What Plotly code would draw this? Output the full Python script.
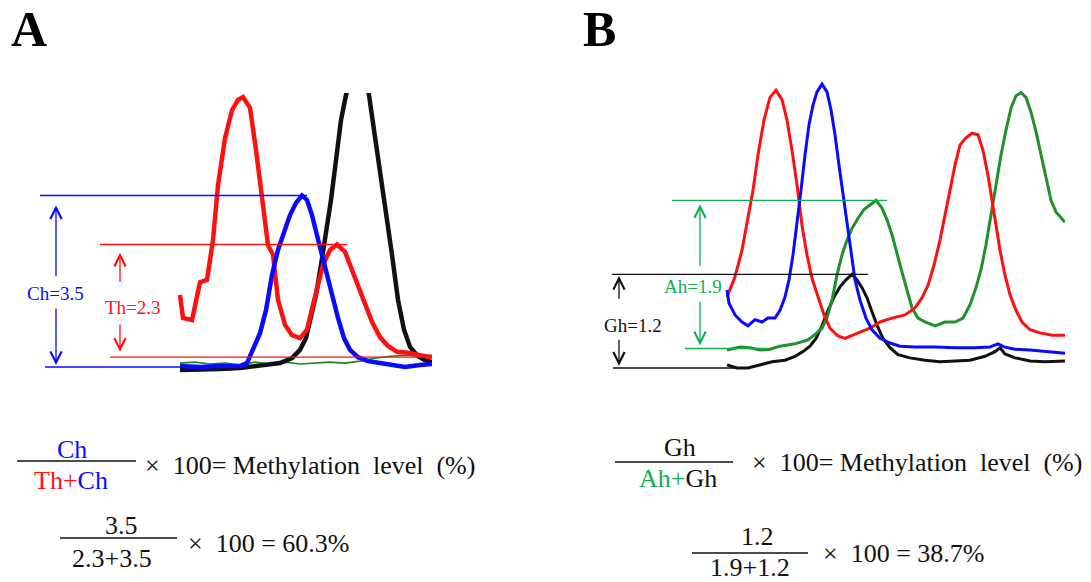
import plotly.graph_objects as go

# ---------------- Panel A: T/C peak electropherogram (signal in peak-height units) ----------------
a_red_scan = [0, 3, 12, 20, 27, 33, 38, 45, 52, 58, 63, 70, 76, 82, 88, 93, 98, 105, 112, 120,
              127, 133, 138, 143, 150, 157, 165, 172, 178, 185, 192, 200, 208, 217, 228, 240, 252]
a_red = [1.47, 1.00, 0.96, 1.73, 1.78, 2.59, 3.71, 4.67, 5.24, 5.45, 5.51, 5.29, 4.43, 3.41, 2.49,
         2.29, 1.37, 0.86, 0.65, 0.59, 0.76, 1.27, 1.67, 2.08, 2.39, 2.50, 2.35, 1.98, 1.67, 1.27,
         0.92, 0.61, 0.43, 0.31, 0.29, 0.24, 0.20]

a_blue_scan = [0, 20, 40, 60, 67, 73, 80, 86, 92, 98, 104, 110, 116, 122, 127, 132, 137, 142, 147,
               152, 158, 164, 170, 178, 188, 200, 215, 225, 240, 252]
a_blue = [0.02, 0.00, 0.02, 0.02, 0.08, 0.35, 0.69, 1.16, 1.88, 2.39, 2.76, 3.10, 3.35, 3.50, 3.41,
          3.10, 2.69, 2.29, 1.88, 1.41, 1.00, 0.59, 0.35, 0.20, 0.12, 0.08, 0.04, 0.00, 0.04, 0.06]

a_black_scan = [0, 20, 40, 60, 80, 100, 112, 120, 126, 131, 136, 141, 146, 151, 156, 161, 166, 172,
                178, 184, 189, 194, 200, 206, 212, 218, 224, 230, 238, 245, 252]
a_black = [-0.06, -0.06, -0.04, -0.02, 0.02, 0.08, 0.18, 0.35, 0.59, 1.00, 1.47, 2.08, 2.69, 3.41,
           4.22, 5.04, 5.55, 6.06, 6.37, 6.06, 5.55, 4.84, 4.02, 3.20, 2.29, 1.37, 0.76, 0.41, 0.22,
           0.14, 0.10]

a_green_scan = [0, 15, 30, 45, 60, 75, 90, 105, 120, 135, 150, 165, 180, 195, 210, 225, 240, 252]
a_green = [0.08, 0.10, 0.06, 0.08, 0.04, 0.10, 0.06, 0.10, 0.06, 0.08, 0.10, 0.08, 0.12, 0.18, 0.22,
           0.24, 0.22, 0.24]

# Peak heights for the C/T site
ch_base, ch_height = 0.0, 3.5
th_base, th_height = 0.2, 2.3
a_result = "60.3%"

# ---------------- Panel B: A/G peak electropherogram ----------------
b_red_scan = [0, 8, 15, 21, 26, 31, 37, 43, 49, 55, 60, 65, 70, 75, 80, 85, 91, 97, 103, 111, 118,
              125, 133, 143, 153, 165, 178, 188, 195, 201, 207, 213, 218, 223, 228, 233, 239, 245,
              251, 256, 261, 265, 269, 273, 278, 283, 289, 295, 303, 313, 325, 338]
b_red = [0.91, 1.17, 1.51, 1.96, 2.28, 2.73, 3.18, 3.47, 3.56, 3.44, 3.18, 2.79, 2.35, 1.83, 1.45,
         1.15, 0.91, 0.68, 0.51, 0.41, 0.38, 0.42, 0.46, 0.51, 0.59, 0.64, 0.68, 0.77, 0.90, 1.06,
         1.32, 1.64, 1.96, 2.28, 2.60, 2.86, 2.95, 3.01, 2.99, 2.79, 2.47, 2.15, 1.83, 1.51, 1.19,
         0.94, 0.74, 0.59, 0.49, 0.45, 0.42, 0.42]

b_blue_scan = [0, 2, 8, 15, 21, 28, 35, 41, 48, 53, 58, 62, 66, 70, 74, 78, 82, 86, 90, 95, 100,
               104, 108, 112, 116, 120, 124, 128, 133, 139, 145, 153, 163, 173, 188, 208, 228, 248,
               263, 271, 277, 288, 303, 318, 338]
b_blue = [1.00, 0.83, 0.68, 0.59, 0.54, 0.62, 0.59, 0.64, 0.64, 0.74, 0.91, 1.13, 1.45, 1.83, 2.28,
          2.73, 3.12, 3.37, 3.54, 3.64, 3.54, 3.31, 2.99, 2.60, 2.22, 1.83, 1.45, 1.13, 0.87, 0.64,
          0.49, 0.38, 0.32, 0.28, 0.27, 0.27, 0.26, 0.26, 0.27, 0.31, 0.27, 0.24, 0.23, 0.21, 0.19]

b_green_scan = [0, 13, 23, 33, 43, 53, 68, 81, 89, 95, 100, 105, 110, 115, 120, 125, 131, 137, 143,
                149, 155, 160, 165, 170, 175, 180, 185, 191, 198, 208, 218, 228, 236, 243, 249, 254,
                259, 264, 269, 274, 279, 284, 289, 294, 299, 304, 309, 314, 319, 324, 329, 334, 338]
b_green = [0.23, 0.27, 0.26, 0.23, 0.24, 0.28, 0.31, 0.36, 0.44, 0.51, 0.64, 0.87, 1.19, 1.45, 1.64,
           1.79, 1.92, 2.03, 2.09, 2.15, 2.05, 1.90, 1.71, 1.45, 1.23, 1.00, 0.77, 0.64, 0.59, 0.54,
           0.59, 0.59, 0.64, 0.81, 1.03, 1.26, 1.58, 1.96, 2.35, 2.73, 3.05, 3.33, 3.49, 3.53, 3.47,
           3.28, 3.03, 2.73, 2.41, 2.15, 2.00, 1.92, 1.87]

b_black_scan = [0, 10, 21, 33, 45, 58, 68, 76, 83, 89, 95, 101, 107, 113, 119, 125, 130, 135, 140,
                145, 150, 156, 163, 171, 183, 198, 213, 228, 243, 258, 268, 273, 278, 288, 303, 318,
                338]
b_black = [0.04, 0.00, 0.00, 0.04, 0.08, 0.10, 0.15, 0.21, 0.28, 0.38, 0.54, 0.74, 0.91, 1.04, 1.13,
           1.20, 1.13, 1.03, 0.90, 0.72, 0.55, 0.38, 0.26, 0.17, 0.13, 0.10, 0.08, 0.09, 0.10, 0.15,
           0.21, 0.26, 0.18, 0.13, 0.09, 0.08, 0.09]

# Peak heights for the A/G site
ah_base, ah_height = 0.25, 1.9
gh_base, gh_height = 0.0, 1.2
b_result = "38.7%"

# ---------------- styling ----------------
W, H = 1091, 582
RED, BLUE, BLACK = "#ff1010", "#0a0aff", "#111111"
GREEN_A, GREEN_B, GREEN_NOTE = "#1a8a1a", "#1f902a", "#10b050"
SERIF = "Liberation Serif, Times New Roman, serif"


def px(x):
    return x / W


def py(y):
    return 1 - y / H


fig = go.Figure()

# Panel A traces (x/y axes)
for xs, ys, col, wd in [(a_green_scan, a_green, GREEN_A, 1.6),
                        (a_black_scan, a_black, BLACK, 4.5),
                        (a_red_scan, a_red, RED, 4.5),
                        (a_blue_scan, a_blue, BLUE, 4.5)]:
    fig.add_trace(go.Scatter(x=xs, y=ys, mode="lines", line=dict(color=col, width=wd),
                             xaxis="x", yaxis="y", hoverinfo="skip", showlegend=False))

# Panel B traces (x2/y2 axes)
for xs, ys, col, wd in [(b_black_scan, b_black, BLACK, 3),
                        (b_green_scan, b_green, GREEN_B, 3),
                        (b_red_scan, b_red, RED, 3),
                        (b_blue_scan, b_blue, BLUE, 3)]:
    fig.add_trace(go.Scatter(x=xs, y=ys, mode="lines", line=dict(color=col, width=wd),
                             xaxis="x2", yaxis="y2", hoverinfo="skip", showlegend=False))

shapes = []
annotations = []


def hline(x0, x1, y, col, xr, yr, width=1.3):
    shapes.append(dict(type="line", x0=x0, x1=x1, y0=y, y1=y, xref=xr, yref=yr,
                       line=dict(color=col, width=width), layer="above"))


def arrow(x, y_head, y_tail, col, xr, yr):
    annotations.append(dict(x=x, y=y_head, ax=x, ay=y_tail, xref=xr, yref=yr, axref=xr, ayref=yr,
                            text="", showarrow=True, arrowhead=5, arrowsize=1.7, arrowwidth=1.3,
                            arrowcolor=col, standoff=0))


def label(x, y, txt, col, xr, yr, size=19):
    annotations.append(dict(x=x, y=y, xref=xr, yref=yr, text=txt, showarrow=False,
                            font=dict(family=SERIF, size=size, color=col),
                            xanchor="center", yanchor="middle"))


# Panel A height brackets
ch_top = ch_base + ch_height
th_top = th_base + th_height
hline(-140, 127, ch_top, BLUE, "x", "y")
hline(-135, 65, ch_base, BLUE, "x", "y")
hline(-80, 167, th_top, RED, "x", "y")
hline(-70, 252, th_base, RED, "x", "y")
arrow(-124, ch_top - 0.2, 1.82, BLUE, "x", "y")
arrow(-124, ch_base + 0.04, 1.22, BLUE, "x", "y")
label(-125, 1.51, f"Ch={ch_height}", BLUE, "x", "y")
arrow(-60, th_top - 0.17, 1.71, RED, "x", "y")
arrow(-60, th_base + 0.11, 0.90, RED, "x", "y")
label(-47, 1.22, f"Th={th_height}", RED, "x", "y")

# Panel B height brackets
ah_top = ah_base + ah_height
gh_top = gh_base + gh_height
hline(-55, 160, ah_top, GREEN_NOTE, "x2", "y2")
hline(-42, 40, ah_base, GREEN_NOTE, "x2", "y2")
hline(-115, 141, gh_top, BLACK, "x2", "y2")
hline(-114, 20, gh_base, BLACK, "x2", "y2")
arrow(-27, ah_top - 0.05, 1.29, GREEN_NOTE, "x2", "y2")
arrow(-27, ah_base + 0.04, 0.87, GREEN_NOTE, "x2", "y2")
label(-34, 1.04, f"Ah={ah_height}", GREEN_NOTE, "x2", "y2")
arrow(-108, gh_top - 0.02, 0.87, BLACK, "x2", "y2")
arrow(-108, gh_base + 0.03, 0.38, BLACK, "x2", "y2")
label(-94, 0.55, f"Gh={gh_height}", BLACK, "x2", "y2")

# Panel letters
for (x, t) in [(29, "A"), (599, "B")]:
    annotations.append(dict(x=px(x), y=1, xref="paper", yref="paper", text=f"<b>{t}</b>",
                            showarrow=False, font=dict(family=SERIF, size=50, color="black"),
                            xanchor="center", yanchor="top", borderpad=0))


def ptext(x, y, txt, size=26, anchor="center", col="#111111"):
    annotations.append(dict(x=px(x), y=py(y), xref="paper", yref="paper", text=txt,
                            showarrow=False, font=dict(family=SERIF, size=size, color=col),
                            xanchor=anchor, yanchor="middle"))


def bar(x0, x1, y):
    shapes.append(dict(type="line", x0=px(x0), x1=px(x1), y0=py(y), y1=py(y), xref="paper",
                       yref="paper", line=dict(color="#111111", width=1.5)))


def colored(s, c):
    return f"<span style='color:{c}'>{s}</span>"


METH = "\u00d7&nbsp; 100= Methylation&nbsp; level&nbsp; (%)"

# Formula A
ptext(72, 449, colored("Ch", BLUE))
bar(17, 136, 461)
ptext(71, 481, colored("Th+", RED) + colored("Ch", BLUE))
ptext(143, 465, METH, anchor="left")
ptext(121, 525, f"{ch_height}")
bar(60, 177, 538)
ptext(112, 558, f"{th_height}+{ch_height}")
ptext(186, 543, f"\u00d7&nbsp; 100 = {a_result}", anchor="left")

# Formula B
ptext(680, 447, "Gh")
bar(615, 733, 462)
ptext(678, 478, colored("Ah+", GREEN_NOTE) + "Gh")
ptext(750, 463, METH, anchor="left")
ptext(757, 536, f"{gh_height}")
bar(692, 808, 553)
ptext(750, 567, f"{ah_height}+{gh_height}")
ptext(821, 553, f"\u00d7&nbsp; 100 = {b_result}", anchor="left")

axis_off = dict(visible=False, showgrid=False, zeroline=False, fixedrange=True)
fig.update_layout(
    width=W, height=H,
    margin=dict(l=0, r=0, t=0, b=0),
    paper_bgcolor="white", plot_bgcolor="rgba(0,0,0,0)",
    xaxis=dict(axis_off, domain=[px(0), px(432)], range=[-180, 252]),
    yaxis=dict(axis_off, domain=[py(375), py(93)], range=[-8 / 49, 274 / 49]),
    xaxis2=dict(axis_off, domain=[px(590), px(1065)], range=[-137, 338]),
    yaxis2=dict(axis_off, domain=[py(372), py(80)], range=[-4 / 78, 288 / 78]),
    shapes=shapes,
    annotations=annotations,
)

fig.write_html("out.html")
